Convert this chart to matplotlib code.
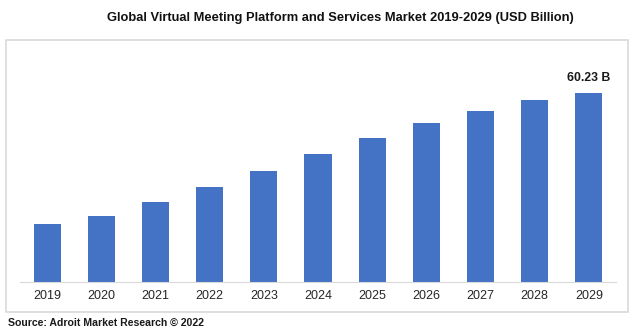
import matplotlib.pyplot as plt
from matplotlib.patches import Rectangle
from matplotlib import font_manager

years = ['2019', '2020', '2021', '2022', '2023', '2024',
         '2025', '2026', '2027', '2028', '2029']
market = [18.5, 21.0, 25.5, 30.3, 35.4, 40.8, 45.9, 50.7, 54.5, 58.0, 60.23]
last_label = '60.23 B'

names = {f.name for f in font_manager.fontManager.ttflist}
narrow = 'Liberation Sans Narrow' if 'Liberation Sans Narrow' in names else 'Liberation Sans'
plt.rcParams['font.family'] = ['Liberation Sans', 'DejaVu Sans']

fig = plt.figure(figsize=(6.3, 3.31), dpi=100)
W, H = 630, 331

# light grey frame round the plot area
fig.patches.append(Rectangle((6 / W, 1 - 312 / H), 622 / W, 272 / H,
                             transform=fig.transFigure, fill=False,
                             edgecolor='#d9d9d9', linewidth=1.2))

ax = fig.add_axes([20 / W, 1 - 282 / H, 596 / W, 232 / H])
x = range(len(years))
ax.bar(x, market, width=0.5, color='#4472C4')
ax.set_xlim(-0.5, len(years) - 0.5)
ax.set_ylim(0, 74)
ax.set_xticks(list(x))
ax.set_xticklabels(years, fontsize=9, color='#262626')
ax.tick_params(axis='x', length=0, pad=6)
ax.set_yticks([])
for s in ['top', 'right', 'left']:
    ax.spines[s].set_visible(False)
ax.spines['bottom'].set_color('#d9d9d9')
ax.patch.set_alpha(0)

ax.text(len(years) - 1, market[-1] + 2.8, last_label, ha='center', va='bottom',
        fontsize=8.8, fontweight='bold', color='#1a1a1a')

fig.text(340 / W, 1 - 18 / H,
         'Global Virtual Meeting Platform and Services Market 2019-2029 (USD Billion)',
         ha='center', va='center', fontsize=9.3, fontweight='bold',
         family=[narrow, 'DejaVu Sans'], color='#111111')
fig.text(8 / W, 1 - 323 / H, 'Source: Adroit Market Research \u00a9 2022',
         ha='left', va='center', fontsize=7.6, fontweight='bold', color='#1a1a1a')

fig.savefig('out.png', dpi=100)
